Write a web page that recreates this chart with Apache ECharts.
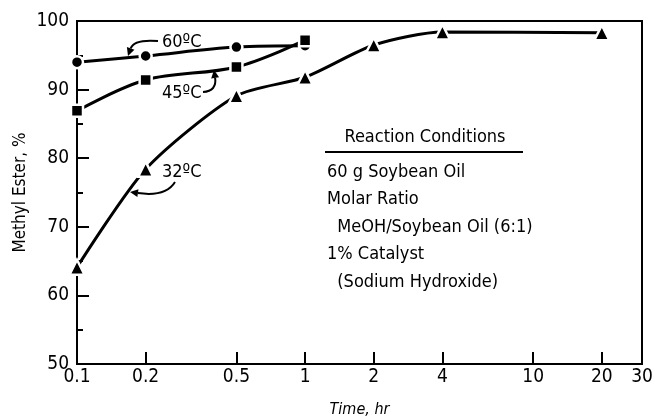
<!DOCTYPE html>
<html>
<head>
<meta charset="utf-8">
<script src="https://cdn.jsdelivr.net/npm/echarts@6/dist/echarts.min.js"></script>
<style>
  html, body { margin: 0; padding: 0; background: #fff; }
  #chart { width: 655px; height: 418px; }
</style>
</head>
<body>
<div id="chart"></div>
<script>
// time, hr
var times60 = [0.1, 0.2, 0.5, 1];
var ester60 = [94.0, 94.9, 96.2, 96.4];
var times45 = [0.1, 0.2, 0.5, 1];
var ester45 = [86.9, 91.4, 93.3, 97.2];
var times32 = [0.1, 0.2, 0.5, 1, 2, 4, 20];
var ester32 = [64.1, 78.4, 89.1, 91.8, 96.5, 98.4, 98.3];

var xLabels = [0.1, 0.2, 0.5, 1, 2, 4, 10, 20, 30];
var xTicks = [0.2, 0.5, 1, 2, 4, 10, 20];

var conditions = [
  '60 g Soybean Oil',
  'Molar Ratio',
  '  MeOH/Soybean Oil (6:1)',
  '1% Catalyst',
  '  (Sodium Hydroxide)'
];

var FONT = "'Liberation Sans Narrow', 'DejaVu Sans Condensed', sans-serif";

function pairs(xs, ys) {
  return xs.map(function (x, i) { return [x, ys[i]]; });
}

// curved pointer with a filled head at p1
function pointer(p0, cp, p1) {
  var dx = p1[0] - cp[0], dy = p1[1] - cp[1];
  var len = Math.sqrt(dx * dx + dy * dy);
  dx /= len; dy /= len;
  var hl = 8, hw = 4;
  var bx = p1[0] - dx * hl, by = p1[1] - dy * hl;
  return [
    {
      type: 'bezierCurve',
      shape: { x1: p0[0], y1: p0[1], cpx1: cp[0], cpy1: cp[1], x2: bx, y2: by },
      style: { stroke: '#000', lineWidth: 2, fill: null }
    },
    {
      type: 'polygon',
      shape: { points: [p1, [bx - dy * hw, by + dx * hw], [bx + dy * hw, by - dx * hw]] },
      style: { fill: '#000' }
    }
  ];
}

function label(text, x, y) {
  return {
    type: 'text', x: x, y: y,
    style: { text: text, font: '18px ' + FONT, fill: '#000', verticalAlign: 'middle' }
  };
}

var chart = echarts.init(document.getElementById('chart'));

var graphics = [];
graphics.push(label('60ºC', 162, 42));
graphics.push(label('45ºC', 162, 93));
graphics.push(label('32ºC', 162, 172));
graphics = graphics.concat(pointer([158, 41], [134, 39], [128, 56]));
graphics = graphics.concat(pointer([203, 92], [217, 91], [214, 70]));
graphics = graphics.concat(pointer([175, 182], [166, 197], [130, 192]));

graphics.push({
  type: 'text', x: 425, y: 137,
  style: { text: 'Reaction Conditions', font: '18px ' + FONT, fill: '#000', align: 'center', verticalAlign: 'middle' }
});
graphics.push({
  type: 'line',
  shape: { x1: 325, y1: 152, x2: 523, y2: 152 },
  style: { stroke: '#000', lineWidth: 2 }
});
var rowY = [172, 199, 227, 254, 282];
conditions.forEach(function (t, i) {
  graphics.push(label(t, 327, rowY[i]));
});

function seriesOf(name, data, symbol, size, smooth) {
  return {
    name: name,
    type: 'line',
    data: data,
    smooth: smooth,
    symbol: symbol,
    symbolSize: size,
    showAllSymbol: true,
    lineStyle: { color: '#000', width: 3 },
    itemStyle: { color: '#000', borderColor: '#fff', borderWidth: 2.5 },
    emphasis: { disabled: true },
    z: 3
  };
}

chart.setOption({
  animation: false,
  grid: {
    left: 77, right: 13, top: 21, bottom: 54,
    outerBoundsMode: 'none',
    containLabel: false,
    show: true, borderColor: '#000', borderWidth: 2
  },
  xAxis: {
    type: 'log',
    min: 0.1,
    max: 30,
    name: 'Time, hr',
    nameLocation: 'middle',
    nameGap: 38,
    nameTextStyle: { fontFamily: FONT, fontSize: 16, color: '#000', fontStyle: 'italic' },
    axisLine: { lineStyle: { color: '#000', width: 2 } },
    axisTick: { inside: true, length: 12, lineStyle: { color: '#000', width: 2 }, customValues: xTicks },
    minorTick: { show: false },
    axisLabel: {
      customValues: xLabels,
      margin: 4,
      color: '#000',
      fontFamily: FONT,
      fontSize: 19,
      formatter: function (v) { return String(v); }
    },
    splitLine: { show: false }
  },
  yAxis: {
    type: 'value',
    min: 50,
    max: 100,
    interval: 10,
    name: 'Methyl Ester, %',
    nameLocation: 'middle',
    nameGap: 48,
    nameMoveOverlap: false,
    nameTextStyle: { fontFamily: FONT, fontSize: 17, color: '#000' },
    axisLine: { show: true, lineStyle: { color: '#000', width: 2 } },
    axisTick: { show: true, inside: true, length: 12, lineStyle: { color: '#000', width: 2 } },
    minorTick: { show: true, splitNumber: 2, length: 6, lineStyle: { color: '#000', width: 2 } },
    axisLabel: { margin: 8, color: '#000', fontFamily: FONT, fontSize: 19 },
    splitLine: { show: false }
  },
  series: [
    seriesOf('60ºC', pairs(times60, ester60), 'circle', 12, 0.35),
    seriesOf('45ºC', pairs(times45, ester45), 'rect', 12, 0.35),
    seriesOf('32ºC', pairs(times32, ester32), 'triangle', 15, 0.25)
  ],
  graphic: graphics
});
</script>
</body>
</html>
